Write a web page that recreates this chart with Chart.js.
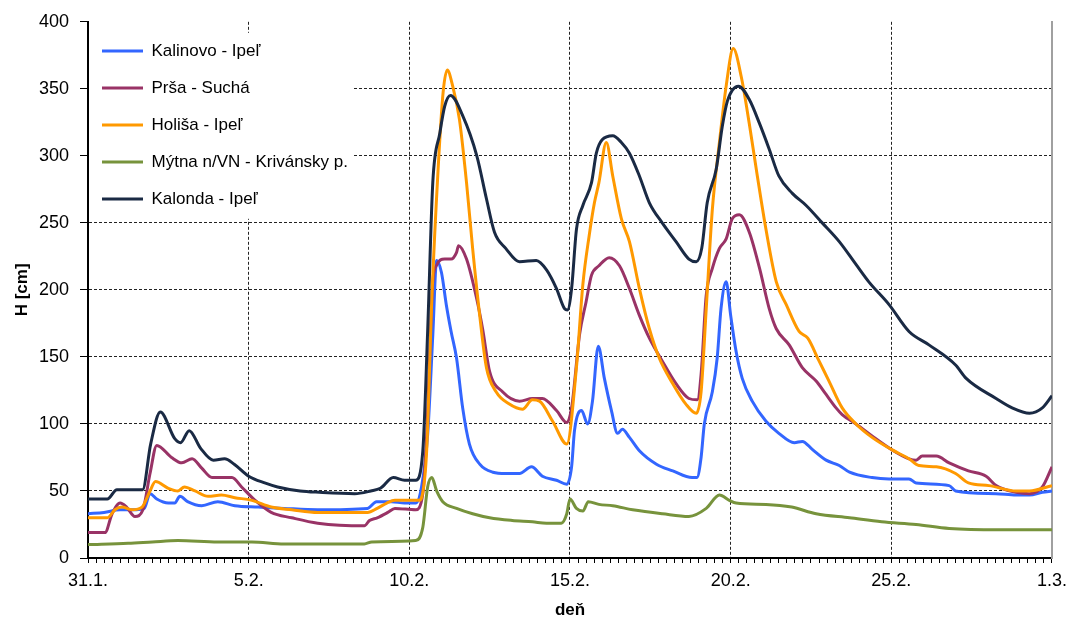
<!DOCTYPE html>
<html>
<head>
<meta charset="utf-8">
<title>H [cm]</title>
<script src="https://cdn.jsdelivr.net/npm/chart.js@4.4.0/dist/chart.umd.min.js"></script>
<style>
body { margin: 0; background: #fff; }
#wrap { width: 1074px; height: 626px; }
</style>
</head>
<body>
<div id="wrap"><canvas id="chart"></canvas></div>
<script>
// x = days since 31.1., y = H [cm]
var majorDays = [0, 5, 10, 15, 20, 25, 30];
var dayLabels = ['31.1.', '5.2.', '10.2.', '15.2.', '20.2.', '25.2.', '1.3.'];

var kalinovoT = [0, 0.5, 1.0, 1.5, 1.75, 1.93, 2.14, 2.5, 2.7, 2.86, 3.1, 3.54, 4.04, 4.57, 5.3, 6.1, 7.15, 8.7, 8.98, 9.45, 9.85, 10.2, 10.38, 10.57, 10.73, 10.85, 11.0, 11.15, 11.3, 11.47, 11.66, 11.87, 12.19, 12.6, 13.0, 13.43, 13.8, 14.14, 14.58, 14.9, 15.05, 15.14, 15.36, 15.55, 15.7, 15.88, 16.07, 16.29, 16.48, 16.63, 16.85, 17.16, 17.69, 18.2, 18.8, 18.95, 19.08, 19.18, 19.43, 19.58, 19.7, 19.86, 20.0, 20.17, 20.36, 20.67, 21.1, 21.5, 21.98, 22.23, 22.54, 22.97, 23.38, 23.7, 24.4, 24.93, 25.55, 25.77, 26.8, 27.0, 28.26, 28.88, 29.3, 29.7, 30];
var kalinovoH = [33, 34, 36, 36, 37, 48, 44, 41, 41, 46, 42, 39, 42, 39, 38, 37, 36, 37, 42, 42, 41, 41, 53, 92, 166, 222, 213, 189, 169, 149, 112, 85, 70, 64, 63, 63, 68, 61, 58, 55, 68, 95, 110, 100, 117, 158, 134, 110, 93, 96, 90, 80, 70, 65, 60, 60, 75, 100, 124, 149, 186, 206, 181, 154, 134, 117, 102, 93, 86, 87, 81, 73, 69, 64, 60, 59, 59, 56, 54, 50, 48, 47, 47, 49, 50];

var prsaT = [0, 0.53, 0.75, 1.0, 1.2, 1.46, 1.71, 1.93, 2.14, 2.6, 2.92, 3.24, 3.54, 3.86, 4.48, 4.78, 5.2, 5.7, 6.34, 7.15, 8.6, 8.76, 9.0, 9.33, 9.55, 10.2, 10.42, 10.54, 10.73, 10.84, 11.1, 11.3, 11.47, 11.53, 11.78, 12.1, 12.28, 12.5, 12.9, 13.43, 13.83, 14.14, 14.58, 14.9, 15.05, 15.3, 15.5, 15.67, 15.9, 16.22, 16.54, 16.85, 17.16, 17.47, 17.87, 18.3, 18.7, 18.96, 19.08, 19.24, 19.43, 19.65, 19.86, 20.05, 20.27, 20.58, 20.9, 21.2, 21.42, 21.82, 22.23, 22.66, 22.97, 23.28, 23.47, 23.9, 24.4, 25.0, 25.55, 25.77, 25.96, 26.4, 26.8, 27.4, 27.95, 28.26, 28.88, 29.3, 29.7, 30];
var prsaH = [19, 19, 33, 41, 38, 31, 36, 63, 84, 75, 71, 74, 67, 60, 60, 53, 43, 34, 30, 26, 24, 28, 30, 34, 37, 36, 48, 92, 206, 218, 223, 223, 228, 233, 223, 193, 171, 139, 124, 117, 119, 119, 110, 101, 112, 167, 191, 211, 218, 224, 218, 201, 181, 164, 147, 130, 119, 118, 137, 196, 216, 231, 238, 253, 256, 243, 216, 186, 171, 159, 142, 132, 122, 112, 107, 100, 91, 81, 74, 73, 76, 76, 71, 65, 61, 54, 49, 48, 53, 68];

var holisaT = [0, 0.6, 0.84, 1.05, 1.37, 1.68, 1.93, 2.1, 2.5, 2.8, 3.0, 3.33, 3.74, 4.15, 4.57, 5.1, 5.7, 6.34, 7.15, 8.7, 9.0, 9.3, 9.55, 10.3, 10.38, 10.54, 10.7, 10.9, 11.05, 11.18, 11.35, 11.56, 11.78, 11.97, 12.19, 12.4, 12.7, 13.1, 13.52, 13.83, 14.05, 14.46, 14.9, 15.2, 15.4, 15.6, 15.76, 15.9, 16.13, 16.33, 16.6, 16.85, 17.16, 17.47, 17.78, 18.2, 18.6, 18.93, 19.08, 19.24, 19.43, 19.65, 19.86, 20.08, 20.33, 20.58, 20.83, 21.1, 21.42, 21.73, 22.13, 22.4, 22.75, 23.06, 23.47, 23.9, 24.4, 25.0, 25.55, 25.86, 26.4, 27.0, 27.4, 28.04, 28.88, 29.3, 30];
var holisaH = [30, 30, 36, 38, 36, 38, 50, 57, 52, 50, 53, 50, 46, 47, 45, 43, 38, 36, 34, 34, 37, 41, 43, 43, 45, 80, 193, 292, 347, 364, 352, 327, 280, 231, 181, 142, 124, 115, 111, 118, 117, 102, 85, 142, 204, 241, 265, 280, 310, 285, 253, 236, 201, 171, 149, 130, 115, 108, 124, 186, 260, 310, 352, 380, 359, 324, 285, 245, 206, 189, 169, 164, 147, 132, 112, 100, 90, 81, 74, 69, 68, 63, 56, 54, 50, 50, 54];

var mytnaT = [0, 1.25, 2.0, 2.8, 4.04, 5.1, 6.1, 8.6, 8.83, 10.2, 10.42, 10.57, 10.7, 10.85, 11.04, 11.47, 11.97, 12.5, 13.2, 13.83, 14.27, 14.73, 14.9, 15.0, 15.2, 15.4, 15.57, 15.9, 16.33, 16.95, 17.88, 18.7, 19.24, 19.65, 19.96, 20.17, 21.1, 21.9, 22.66, 23.7, 24.7, 25.77, 26.8, 28.35, 30];
var mytnaH = [10, 11, 12, 13, 12, 12, 10.5, 10.5, 12, 13, 23, 53, 60, 50, 42, 37, 33, 30, 28, 27, 26, 26, 33, 44, 37, 35, 42, 40, 39, 36, 33, 31, 37, 47, 43, 41, 40, 38, 33, 30, 27, 25, 22, 21, 21];

var kalondaT = [0, 0.6, 0.9, 1.7, 1.95, 2.25, 2.7, 2.88, 3.15, 3.5, 3.9, 4.25, 4.55, 5.0, 5.5, 5.9, 6.6, 7.2, 8.3, 8.8, 9.1, 9.5, 9.85, 10.2, 10.42, 10.57, 10.73, 10.95, 11.1, 11.28, 11.66, 12.1, 12.4, 12.65, 13.0, 13.43, 13.95, 14.27, 14.58, 14.83, 14.92, 15.05, 15.2, 15.4, 15.67, 15.82, 16.0, 16.33, 16.6, 16.85, 17.16, 17.47, 17.87, 18.3, 18.7, 18.93, 19.1, 19.27, 19.55, 19.74, 19.9, 20.24, 20.58, 20.9, 21.2, 21.5, 21.92, 22.35, 22.85, 23.38, 23.9, 24.3, 24.93, 25.55, 26.17, 27.0, 27.33, 28.26, 28.76, 29.3, 29.7, 30];
var kalondaH = [44, 44, 51, 51, 85, 109, 89, 86, 95, 82, 73, 74, 70, 61, 56, 53, 50, 49, 48, 50, 52, 60, 58, 58, 80, 169, 280, 317, 337, 345, 330, 300, 268, 243, 231, 221, 222, 215, 201, 186, 185, 201, 245, 263, 280, 302, 312, 315, 310, 302, 285, 265, 250, 236, 223, 221, 231, 265, 290, 322, 341, 352, 342, 324, 305, 285, 272, 263, 250, 236, 219, 206, 189, 169, 159, 144, 134, 119, 112, 108, 112, 121];

var FONT = "'Liberation Sans', Arial, sans-serif";

function points(t, h) {
	return t.map(function (x, i) { return { x: x, y: h[i] }; });
}

function series(label, color, t, h, order) {
	return {
		label: label,
		data: points(t, h),
		borderColor: color,
		backgroundColor: color,
		borderWidth: 3,
		pointRadius: 0,
		cubicInterpolationMode: 'monotone',
		order: order
	};
}

function dayLabel(value) {
	for (var i = 0; i < majorDays.length; i++) {
		if (Math.abs(majorDays[i] - value) < 1e-6) return dayLabels[i];
	}
	return '';
}

// white box behind the legend, legend drawn again over the grid
var legendBackdrop = {
	id: 'legendBackdrop',
	afterLayout: function (chart) {
		chart.legend.left -= 6;
		chart.legend.top += 22.5;
	},
	beforeDatasetsDraw: function (chart) {
		var ctx = chart.ctx, a = chart.chartArea;
		ctx.save();
		ctx.fillStyle = '#fff';
		ctx.fillRect(a.left + 1, a.top + 11, 265, 186);
		ctx.restore();
		chart.legend.draw();
	}
};

var chart = new Chart(document.getElementById('chart'), {
	type: 'line',
	data: {
		datasets: [
			series('Kalinovo - Ipeľ', '#3366ff', kalinovoT, kalinovoH, 5),
			series('Prša - Suchá', '#993366', prsaT, prsaH, 4),
			series('Holiša - Ipeľ', '#ff9900', holisaT, holisaH, 3),
			series('Mýtna n/VN - Krivánsky p.', '#77933c', mytnaT, mytnaH, 2),
			series('Kalonda - Ipeľ', '#1a2a44', kalondaT, kalondaH, 1)
		]
	},
	options: {
		responsive: true,
		maintainAspectRatio: false,
		animation: false,
		events: [],
		layout: { padding: { left: 0, right: 21, top: 18, bottom: 0 } },
		plugins: {
			tooltip: { enabled: false },
			legend: {
				position: 'chartArea',
				align: 'start',
				labels: {
					usePointStyle: true,
					pointStyle: 'line',
					pointStyleWidth: 41,
					padding: 20,
					color: '#000',
					font: { family: FONT, size: 17 },
					sort: function (a, b) { return a.datasetIndex - b.datasetIndex; }
				}
			}
		},
		scales: {
			x: {
				type: 'linear',
				min: 0,
				max: 30,
				ticks: {
					stepSize: 0.25,
					autoSkip: false,
					maxRotation: 0,
					minRotation: 0,
					padding: 7,
					color: '#000',
					font: { family: FONT, size: 18 },
					callback: function (value) { return dayLabel(value); }
				},
				grid: {
					color: function (c) {
						var v = c.tick ? c.tick.value : 0;
						if (Math.abs(v - 30) < 1e-6) return 'transparent';
						return dayLabel(v) ? '#222' : 'transparent';
					},
					tickColor: '#000',
					tickLength: 5,
					lineWidth: 1
				},
				border: { color: '#000', width: 2, dash: [3, 2] },
				title: {
					display: true,
					text: 'deň',
					color: '#000',
					font: { family: FONT, size: 17, weight: 'bold' },
					padding: { top: 0, bottom: 5 }
				},
				afterFit: function (s) { s.height = 68; }
			},
			y: {
				min: 0,
				max: 400,
				ticks: {
					stepSize: 50,
					padding: 11,
					color: '#000',
					font: { family: FONT, size: 18 }
				},
				grid: {
					color: function (c) { return c.tick && c.tick.value === 400 ? 'transparent' : '#222'; },
					tickColor: '#000',
					tickLength: 8,
					lineWidth: 1
				},
				border: { color: '#000', width: 2, dash: [3, 2] },
				title: {
					display: true,
					text: 'H [cm]',
					color: '#000',
					font: { family: FONT, size: 17, weight: 'bold' },
					padding: { top: 12, bottom: 0 }
				},
				afterFit: function (s) { s.width = 88; }
			},
			y2: {
				position: 'right',
				min: 0,
				max: 400,
				ticks: { display: false },
				grid: { display: false, drawTicks: false },
				border: { color: '#a0a0a0', width: 2 },
				afterFit: function (s) { s.width = 0; }
			}
		}
	},
	plugins: [legendBackdrop]
});
</script>
</body>
</html>
